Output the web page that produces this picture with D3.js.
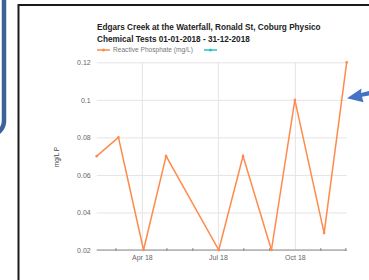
<!DOCTYPE html>
<html>
<head>
<meta charset="utf-8">
<script src="https://cdn.jsdelivr.net/npm/d3@7"></script>
<style>
  body { margin: 0; background: #fff; }
  svg { display: block; font-family: "Liberation Sans", Arial, sans-serif; }
</style>
</head>
<body>
<div id="chart"></div>
<script>
// Data
const sampleDates = ["2018-02-06", "2018-03-04", "2018-04-03", "2018-04-30", "2018-07-02",
                     "2018-07-31", "2018-09-03", "2018-10-01", "2018-11-05", "2018-12-02"];
const phosphate = [0.07, 0.08, 0.02, 0.07, 0.02, 0.07, 0.02, 0.1, 0.029, 0.12];
const yTicks = [0.02, 0.04, 0.06, 0.08, 0.1, 0.12];
const majorMonths = ["2018-04-01", "2018-07-01", "2018-10-01"];
const majorLabels = ["Apr 18", "Jul 18", "Oct 18"];
const minorMonths = ["2018-03-01", "2018-05-01", "2018-06-01", "2018-08-01",
                     "2018-09-01", "2018-11-01", "2018-12-01"];
const titleLines = ["Edgars Creek at the Waterfall, Ronald St, Coburg Physico",
                    "Chemical Tests 01-01-2018 - 31-12-2018"];
const seriesNames = ["Reactive Phosphate (mg/L)", ""];
const seriesColors = ["#ff8a4c", "#2bbfbf"];
const yTitle = "mg/L P";

const W = 369, H = 280;
const plot = { left: 96.7, right: 346.7, top: 62.3, bottom: 250 };
const parse = d3.timeParse("%Y-%m-%d");

const data = sampleDates.map((d, i) => ({ date: parse(d), value: phosphate[i] }));

const svg = d3.select("#chart").append("svg")
    .attr("width", W)
    .attr("height", H);

// Slide decoration: blue box edge and black frame
svg.append("rect")
    .attr("x", -60).attr("y", -30)
    .attr("width", 64).attr("height", 165)
    .attr("rx", 14)
    .attr("fill", "none")
    .attr("stroke", "#3d6199")
    .attr("stroke-width", 4.5);

svg.append("rect")
    .attr("x", 18.5).attr("y", 5)
    .attr("width", 400).attr("height", 320)
    .attr("fill", "#fff")
    .attr("stroke", "#1a1a1a")
    .attr("stroke-width", 2);

// Scales
const x = d3.scaleTime()
    .domain(d3.extent(data, d => d.date))
    .range([plot.left, plot.right]);
const y = d3.scaleLinear()
    .domain([0.02, 0.12])
    .range([plot.bottom, plot.top]);

// Horizontal gridlines + y labels
const yAxis = svg.append("g")
    .attr("transform", `translate(${plot.left},0)`)
    .call(d3.axisLeft(y)
        .tickValues(yTicks)
        .tickSize(-(plot.right - plot.left))
        .tickPadding(6)
        .tickFormat(d => String(+d.toFixed(2))));
yAxis.select(".domain").remove();
yAxis.selectAll("line").attr("stroke", "#e4e4e4");
yAxis.selectAll("text")
    .attr("fill", "#666")
    .style("font-size", "7px")
    .style("font-family", "'Liberation Sans', Arial, sans-serif");

// Vertical gridlines at labelled months
const xGrid = svg.append("g")
    .attr("transform", `translate(0,${plot.bottom})`)
    .call(d3.axisBottom(x)
        .tickValues(majorMonths.map(parse))
        .tickSize(-(plot.bottom - plot.top))
        .tickPadding(5)
        .tickFormat((d, i) => majorLabels[i]));
xGrid.select(".domain").remove();
xGrid.selectAll("line").attr("stroke", "#e4e4e4");
xGrid.selectAll("text")
    .attr("fill", "#666")
    .style("font-size", "7px")
    .style("font-family", "'Liberation Sans', Arial, sans-serif");

// Baseline and minor month ticks
svg.append("line")
    .attr("x1", plot.left).attr("x2", plot.right)
    .attr("y1", y(0.02)).attr("y2", y(0.02))
    .attr("stroke", "#8a8a8a")
    .attr("stroke-width", 1);

svg.append("g")
    .selectAll("line")
    .data(minorMonths.map(parse))
    .enter().append("line")
    .attr("x1", d => x(d)).attr("x2", d => x(d))
    .attr("y1", plot.bottom - 2).attr("y2", plot.bottom + 1)
    .attr("stroke", "#8a8a8a");

// Series line
const line = d3.line()
    .x(d => x(d.date))
    .y(d => y(d.value));

svg.append("path")
    .datum(data)
    .attr("d", line)
    .attr("fill", "none")
    .attr("stroke", seriesColors[0])
    .attr("stroke-width", 1.5)
    .attr("stroke-linejoin", "miter");

svg.selectAll(".dot")
    .data(data)
    .enter().append("circle")
    .attr("class", "dot")
    .attr("cx", d => x(d.date))
    .attr("cy", d => y(d.value))
    .attr("r", 1.3)
    .attr("fill", seriesColors[0]);

// Title
svg.append("text")
    .attr("x", 97)
    .attr("fill", "#222")
    .style("font-size", "8.2px")
    .style("font-weight", "bold")
    .selectAll("tspan")
    .data(titleLines)
    .enter().append("tspan")
    .attr("x", 97)
    .attr("y", (d, i) => 30 + i * 11.7)
    .text(d => d);

// Legend
const legend = svg.append("g").attr("transform", "translate(97,50)");
legend.append("line").attr("x1", 0).attr("x2", 13).attr("stroke", seriesColors[0]).attr("stroke-width", 1.5);
legend.append("circle").attr("cx", 6.5).attr("r", 1.5).attr("fill", seriesColors[0]);
legend.append("text")
    .attr("x", 16).attr("y", 2.4)
    .attr("fill", "#777")
    .style("font-size", "6.6px")
    .text(seriesNames[0]);
legend.append("line").attr("x1", 107).attr("x2", 120).attr("stroke", seriesColors[1]).attr("stroke-width", 1.5);
legend.append("circle").attr("cx", 113.5).attr("r", 1.5).attr("fill", seriesColors[1]);

// Y axis title
svg.append("text")
    .attr("transform", "translate(59,157) rotate(-90)")
    .attr("text-anchor", "middle")
    .attr("fill", "#444")
    .style("font-size", "6.5px")
    .text(yTitle);

// Pointer arrow
svg.append("path")
    .attr("d", "M347,98.3 L361.5,88.5 L361,93 L369,91 L369,95.5 L362,96.8 L363.5,102.3 Z")
    .attr("fill", "#4472c4");
</script>
</body>
</html>
